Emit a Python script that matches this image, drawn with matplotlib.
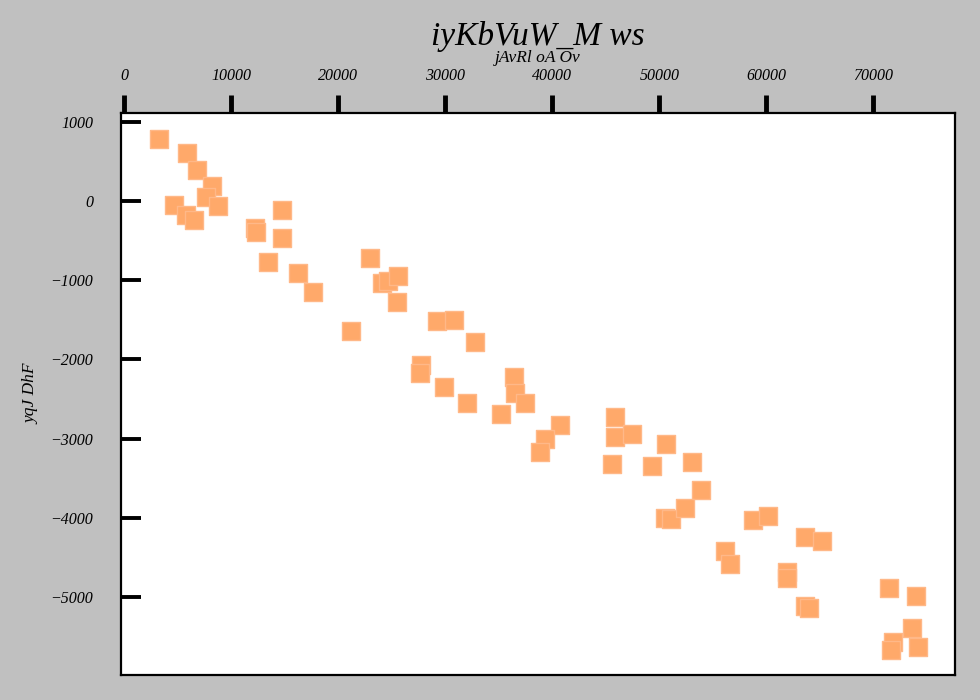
import matplotlib
matplotlib.use("Agg")
import matplotlib.pyplot as plt

# values
x_vals = [3224, 5840, 6776, 8178, 7617, 4626, 5748, 6495, 8738, 14720,
          12196, 12290, 14720, 13411, 16215, 17617, 21168, 22944, 24065, 24700,
          25560, 25467, 29206, 30795, 32757, 27710, 27617, 29860, 32009, 36402,
          36495, 37430, 35187, 40701, 39299, 38832, 45841, 45841, 47430, 45561,
          49299, 50607, 53037, 53879, 50514, 51074, 52383, 56121, 56589, 58738,
          60140, 61916, 61916, 63598, 65187, 63598, 63972, 71449, 73972, 73598,
          71822, 71636, 74159]
y_vals = [785, 608, 392, 190, 51, -51, -177, -241, -63, -114,
          -342, -392, -468, -772, -911, -1152, -1646, -722, -1038, -1013,
          -949, -1278, -1519, -1506, -1785, -2076, -2177, -2354, -2544, -2228,
          -2430, -2544, -2684, -2823, -3000, -3165, -2722, -2975, -2937, -3316,
          -3342, -3063, -3291, -3646, -4000, -4013, -3873, -4418, -4582, -4025,
          -3975, -4680, -4760, -4241, -4291, -5114, -5139, -4886, -4987, -5392,
          -5570, -5671, -5633]

title_text = "iyKbVuW_M ws"
x_label = "jAvRl oA Ov"
y_label = "yqJ DhF"
x_ticks = [0, 10000, 20000, 30000, 40000, 50000, 60000, 70000]
y_ticks = [-5000, -4000, -3000, -2000, -1000, 0, 1000]

plt.rcParams['font.family'] = ['Liberation Serif', 'DejaVu Serif']
plt.rcParams['font.style'] = 'italic'

fig = plt.figure(figsize=(9.8, 7), dpi=100, facecolor='#c0c0c0')
ax = fig.add_axes([0.1235, 0.0357, 0.851, 0.8029])
ax.set_facecolor('white')

ax.scatter(x_vals, y_vals, marker='s', s=175, facecolor='#ffa96a',
           edgecolor='#ffb888', linewidth=1, zorder=3)

ax.set_xlim(-280, 77620)
ax.set_ylim(-5987, 1114)

# x axis sits on top, ticks pointing out
ax.xaxis.tick_top()
ax.xaxis.set_label_position('top')
ax.set_xticks(x_ticks)
ax.set_yticks(y_ticks)
ax.tick_params(axis='x', direction='out', length=13, width=3.5, pad=8,
               labelsize=11.5, color='black')
ax.tick_params(axis='y', direction='in', length=14.5, width=2.8, pad=20,
               labelsize=11.5, color='black')
for lab in ax.get_xticklabels() + ax.get_yticklabels():
    lab.set_style('italic')

for sp in ax.spines.values():
    sp.set_linewidth(1.6)
    sp.set_color('black')

ax.set_xlabel(x_label, fontsize=12.5, style='italic', labelpad=4)
ax.set_ylabel(y_label, fontsize=12.5, style='italic', labelpad=8)
# fixed y keeps the title from being pushed up above the top x label
ax.set_title(title_text, fontsize=24, style='italic', y=1.121, pad=0)

fig.savefig("out.png", dpi=100, facecolor=fig.get_facecolor())
